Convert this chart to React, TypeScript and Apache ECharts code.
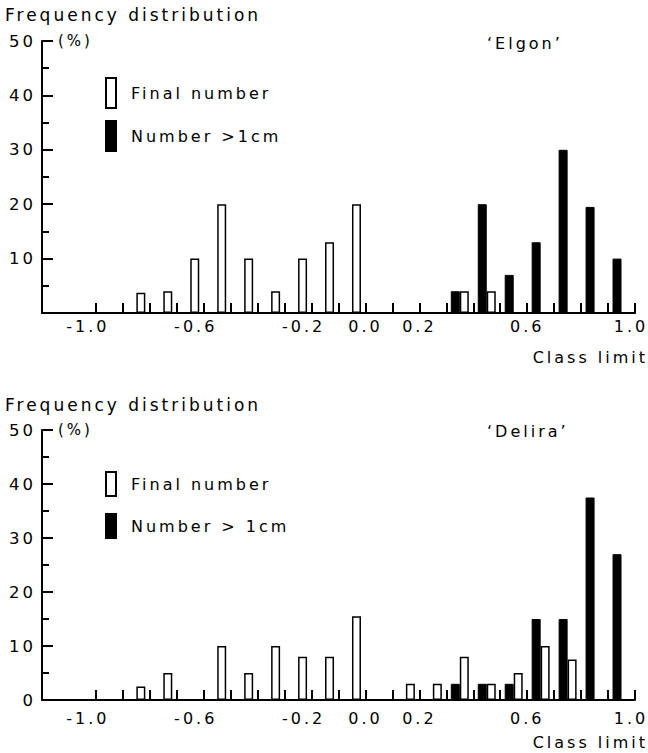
import React, { useEffect, useRef } from 'react';
import * as echarts from 'echarts';

// Class midpoints (class width 0.1)
const classMids = [-0.85, -0.75, -0.65, -0.55, -0.45, -0.35, -0.25, -0.15, -0.05, 0.05, 0.15, 0.25, 0.35, 0.45, 0.55, 0.65, 0.75, 0.85, 0.95];

// 'Elgon'
const elgonFinal = [3.7, 4, 10, 20, 10, 4, 10, 13, 20, 0, 0, 0, 4, 4, 0, 0, 0, 0, 0];
const elgonLarge = [0, 0, 0, 0, 0, 0, 0, 0, 0, 0, 0, 0, 4, 20, 7, 13, 30, 19.5, 10];

// 'Delira'
const deliraFinal = [2.5, 5, 0, 10, 5, 10, 8, 8, 15.5, 0, 3, 3, 8, 3, 5, 10, 7.5, 0, 0];
const deliraLarge = [0, 0, 0, 0, 0, 0, 0, 0, 0, 0, 0, 0, 3, 3, 3, 15, 15, 37.5, 27];

const xTickValues = [-1.0, -0.9, -0.8, -0.7, -0.6, -0.5, -0.4, -0.3, -0.2, -0.1, 0.0, 0.1, 0.2, 0.3, 0.4, 0.5, 0.6, 0.7, 0.8, 0.9, 1.0];
const xLabelValues = [-1.0, -0.6, -0.2, 0.0, 0.2, 0.6, 1.0];
const yLabelsTop = [10, 20, 30, 40, 50];
const yLabelsBottom = [0, 10, 20, 30, 40, 50];

const FONT = 'DejaVu Sans';

const pairs = (vals: number[]) =>
  classMids.map((x, i) => [x, vals[i]]).filter((d) => d[1] > 0);

export default function App() {
  const ref = useRef<HTMLDivElement>(null);

  useEffect(() => {
    if (!ref.current) return;
    const chart = echarts.init(ref.current, undefined, { renderer: 'svg' });

    const xAxis = (gi: number, margin: number) => ({
      type: 'value',
      gridIndex: gi,
      min: -1.2,
      max: 1.0,
      axisLine: { show: true, onZero: false, lineStyle: { color: '#000', width: 2 } },
      axisTick: {
        show: true,
        inside: true,
        length: 10,
        customValues: xTickValues,
        lineStyle: { color: '#000', width: 2 },
      },
      axisLabel: {
        customValues: xLabelValues,
        formatter: (v: number) => {
          const s = v.toFixed(1);
          if (v < 0) return '{neg|' + s + '}';
          if (v >= 1) return '{last|' + s + '}';
          return s;
        },
        rich: {
          neg: { padding: [0, 16, 0, 0] },
          last: { padding: [0, 8, 0, 0] },
        },
        color: '#000',
        fontSize: 16,
        fontFamily: FONT,
        margin,
      },
      splitLine: { show: false },
    });

    const yAxis = (gi: number, labels: number[]) => ({
      type: 'value',
      gridIndex: gi,
      min: 0,
      max: 50,
      interval: 10,
      axisLine: { show: true, onZero: false, lineStyle: { color: '#000', width: 2 } },
      axisTick: { show: true, inside: true, length: 11, lineStyle: { color: '#000', width: 2 } },
      minorTick: { show: true, splitNumber: 2, length: 7, lineStyle: { color: '#000', width: 2 } },
      axisLabel: {
        customValues: labels,
        color: '#000',
        fontSize: 16.5,
        fontFamily: FONT,
        margin: 6,
      },
      splitLine: { show: false },
    });

    const barSeries = (name: string, gi: number, vals: number[], filled: boolean) => ({
      type: 'bar',
      name,
      xAxisIndex: gi,
      yAxisIndex: gi,
      data: pairs(vals),
      barWidth: 9,
      barGap: '0%',
      itemStyle: filled
        ? { color: '#000', borderColor: '#000', borderWidth: 1 }
        : { color: '#fff', borderColor: '#000', borderWidth: 1.5 },
    });

    const txt = (text: string, x: number, y: number, size = 16, align = 'left') => ({
      type: 'text',
      x,
      y,
      style: {
        text,
        fill: '#000',
        fontSize: size,
        fontFamily: FONT,
        align,
        verticalAlign: 'middle',
      },
    });

    const legendText = { color: '#000', fontSize: 16, fontFamily: FONT, padding: [0, 0, 0, 10] };

    chart.setOption({
      animation: false,
      backgroundColor: '#fff',
      grid: [
        { left: 42, top: 41, width: 593, height: 272, outerBoundsMode: 'none' },
        { left: 42, top: 430, width: 593, height: 270, outerBoundsMode: 'none' },
      ],
      xAxis: [xAxis(0, 5), xAxis(1, 10)],
      yAxis: [yAxis(0, yLabelsTop), yAxis(1, yLabelsBottom)],
      legend: [
        {
          left: 100,
          top: 72,
          orient: 'vertical',
          icon: 'rect',
          itemWidth: 10,
          itemHeight: 30,
          itemGap: 11,
          selectedMode: false,
          data: ['Final number', 'Number >1cm'],
          textStyle: legendText,
        },
        {
          left: 100,
          top: 466,
          orient: 'vertical',
          icon: 'rect',
          itemWidth: 10,
          itemHeight: 24,
          itemGap: 16,
          selectedMode: false,
          data: ['Final number', 'Number > 1cm'],
          textStyle: legendText,
        },
      ],
      series: [
        barSeries('Number >1cm', 0, elgonLarge, true),
        barSeries('Final number', 0, elgonFinal, false),
        barSeries('Number > 1cm', 1, deliraLarge, true),
        barSeries('Final number', 1, deliraFinal, false),
      ],
      graphic: [
        txt('Frequency distribution', 5, 15, 17),
        txt('(%)', 58, 41, 15),
        txt('\u2018Elgon\u2019', 487, 43),
        txt('Class limit', 648, 357, 16, 'right'),
        txt('Frequency distribution', 5, 405, 17),
        txt('(%)', 58, 430, 15),
        txt('\u2018Delira\u2019', 487, 431),
        txt('Class limit', 648, 742, 16, 'right'),
      ],
    });

    return () => chart.dispose();
  }, []);

  return (
    <div
      ref={ref}
      style={{ position: 'absolute', left: 0, top: 0, width: 648, height: 753, letterSpacing: '3px' }}
    />
  );
}
